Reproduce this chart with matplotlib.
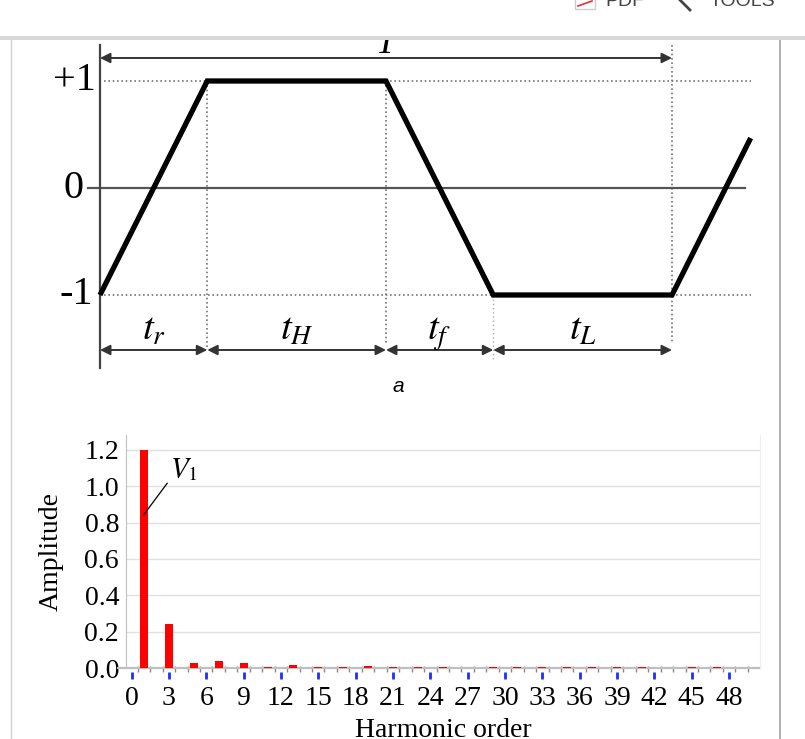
import numpy as np
import matplotlib.pyplot as plt
from matplotlib.patches import Rectangle
from matplotlib.lines import Line2D

plt.rcParams['font.family'] = 'Liberation Serif'
plt.rcParams['mathtext.fontset'] = 'stix'

# --- top diagram: trapezoidal wave (durations in arbitrary units)
t_r, t_H, t_f, t_L = 0.6, 1.0, 0.6, 1.0
t_next = 0.44          # part of the next rise shown at the right
v_hi, v_lo = 1.0, -1.0
level_values = [1, 0, -1]
level_labels = ['+1', '0', '-1']
seg_labels = ['$t_r$', '$t_H$', '$t_f$', '$t_L$']

# --- bottom chart: harmonic spectrum
orders = [1, 3, 5, 7, 9, 11, 13, 15, 17, 19, 21, 23, 25, 27, 29, 31, 33,
          35, 37, 39, 41, 43, 45, 47, 49]
amps = [1.20, 0.24, 0.025, 0.038, 0.030, 0.004, 0.017, 0.007, 0.004, 0.009,
        0.004, 0.003, 0.003, 0.0, 0.003, 0.003, 0.003, 0.003, 0.003, 0.003,
        0.003, 0.0, 0.003, 0.003, 0.0]
xticks = list(range(0, 49, 3))
yticks = [0.0, 0.2, 0.4, 0.6, 0.8, 1.0, 1.2]

W, H = 805, 739
fig = plt.figure(figsize=(W / 100, H / 100), dpi=100)

# ---------------- top diagram ----------------
ax = fig.add_axes([0, 1 - 400 / H, 1, 360 / H])
ax.set_xlim(-100 / 178.75, (W - 100) / 178.75)
ax.set_ylim((188 - 400) / 107, (188 - 40) / 107)
ax.axis('off')

edges = np.cumsum([0, t_r, t_H, t_f, t_L])
T = edges[-1]
wave_t = list(edges) + [T + t_next]
wave_v = [v_lo, v_hi, v_hi, v_lo, v_lo, v_lo + (v_hi - v_lo) * t_next / t_r]

dot = dict(color='#777777', lw=1.2, ls=(0, (1, 1.6)))
ax.plot([0.02, T + t_next], [v_hi, v_hi], **dot)
ax.plot([0.02, T + t_next], [v_lo, v_lo], **dot)
ax.plot([edges[1]] * 2, [v_hi, -1.51], **dot)
ax.plot([edges[2]] * 2, [v_hi, -1.46], **dot)
ax.plot([edges[3]] * 2, [v_lo, -1.6], color='#aaaaaa', lw=1, ls=(0, (1, 2)))
ax.plot([edges[4]] * 2, [1.34, -1.44], **dot)

ax.plot([-0.067, T + 0.41], [0, 0], color='#555555', lw=1.6)
ax.plot([0, 0], [1.336, -1.682], color='#444444', lw=1.6)
ax.plot(wave_t, wave_v, color='black', lw=3.8, solid_joinstyle='miter',
        solid_capstyle='butt', zorder=5)

arr = dict(arrowstyle='<|-|>', color='#333333', lw=1.4, mutation_scale=15,
           shrinkA=0, shrinkB=0)
ax.annotate('', xy=(T, 1.215), xytext=(0, 1.215), arrowprops=arr)
ax.text(T / 2, 1.262, 'T', fontsize=26, style='italic', ha='center',
        va='baseline')
for i, lab in enumerate(seg_labels):
    ax.annotate('', xy=(edges[i + 1], -1.514), xytext=(edges[i], -1.514),
                arrowprops=arr)
    ax.text((edges[i] + edges[i + 1]) / 2, -1.42, lab, fontsize=28,
            ha='center', va='baseline')

lab_x = [-0.025, -0.095, -0.04]
for v, lab, lx in zip(level_values, level_labels, lab_x):
    ax.text(lx, v, lab, fontsize=29, ha='right', va='center')

fig.text(398 / W, 1 - 387 / H, 'a', family='Liberation Sans', style='italic',
         fontsize=15, ha='center', va='center')

# ---------------- bottom chart ----------------
bx = fig.add_axes([126 / W, (H - 668) / H, (760 - 126) / W, (668 - 435) / H])
bx.bar(orders, amps, width=0.65, color='#ff0000', zorder=3)
bx.set_xlim((126 - 131.5) / 12.45, (760 - 131.5) / 12.45)
bx.set_ylim(0, (668 - 435) / 181.7)
bx.set_yticks(yticks)
bx.set_yticklabels([f'{y:.1f}' for y in yticks])
bx.set_xticks(xticks)
bx.set_xticks(np.arange(0.5, 50.5, 1), minor=True)
bx.yaxis.grid(True, color='#e0e0e0', lw=1)
bx.set_axisbelow(True)
bx.tick_params(axis='y', length=0, pad=5, labelsize=20)
bx.tick_params(axis='x', which='major', direction='out', length=5,
               width=2, color='#1f2fff', pad=5, labelsize=20)
bx.tick_params(axis='x', which='minor', direction='in', length=4,
               width=1, color='#888888')
bx.spines['top'].set_visible(False)
bx.spines['bottom'].set_position(('outward', 3))
bx.spines['bottom'].set_visible(False)
bx.spines['left'].set_color('#c0c0c0')
bx.spines['right'].set_color('#eeeeee')
bx.axhline(0, xmin=-0.012, color='#bfbfbf', lw=1.6, clip_on=False, zorder=2)
bx.set_xlabel('Harmonic order', fontsize=20, labelpad=5)
bx.set_ylabel('Amplitude', fontsize=20, labelpad=15)
bx.annotate('$V_1$', xy=(orders[0] - 0.05, 0.84), xytext=(3.1, 1.09),
            fontsize=21, ha='left', va='center',
            arrowprops=dict(arrowstyle='-', color='black', lw=0.9,
                            shrinkA=0, shrinkB=0, relpos=(0.0, 0.15)))

# ---------------- page frame of the screenshot ----------------
fig.patches.append(Rectangle((0, 1 - 36 / H), 1, 36 / H, transform=fig.transFigure,
                             facecolor='white', edgecolor='none', zorder=20))
fig.patches.append(Rectangle((0, 1 - 39.5 / H), 1, 3.5 / H, transform=fig.transFigure,
                             facecolor='#d8d8d8', edgecolor='none', zorder=21))
fig.lines.append(Line2D([11 / W] * 2, [0, 1 - 39 / H], transform=fig.transFigure,
                        color='#cfcfcf', lw=1, zorder=21))
fig.lines.append(Line2D([780 / W] * 2, [0, 1 - 39 / H], transform=fig.transFigure,
                        color='#aaaaaa', lw=1.3, zorder=21))
fig.patches.append(Rectangle((575 / W, 1 - 9 / H), 20 / W, 20 / H, transform=fig.transFigure,
                             facecolor='white', edgecolor='#cccccc', lw=1, zorder=22))
fig.lines.append(Line2D([578 / W, 592 / W], [1 - 6 / H, 1 - 1 / H], transform=fig.transFigure,
                        color='#e03030', lw=1.2, zorder=23))
fig.text(605 / W, 1 - 1 / H, 'PDF', family='Liberation Sans', fontsize=14,
         color='#444444', ha='left', va='center', zorder=22)
fig.text(710 / W, 1 - 1 / H, 'TOOLS', family='Liberation Sans', fontsize=14,
         color='#444444', ha='left', va='center', zorder=22)
fig.lines.append(Line2D([680 / W, 690 / W], [1 - 0 / H, 1 - 10 / H], transform=fig.transFigure,
                        color='#444444', lw=2, zorder=22))

fig.savefig('out.png', dpi=100)
